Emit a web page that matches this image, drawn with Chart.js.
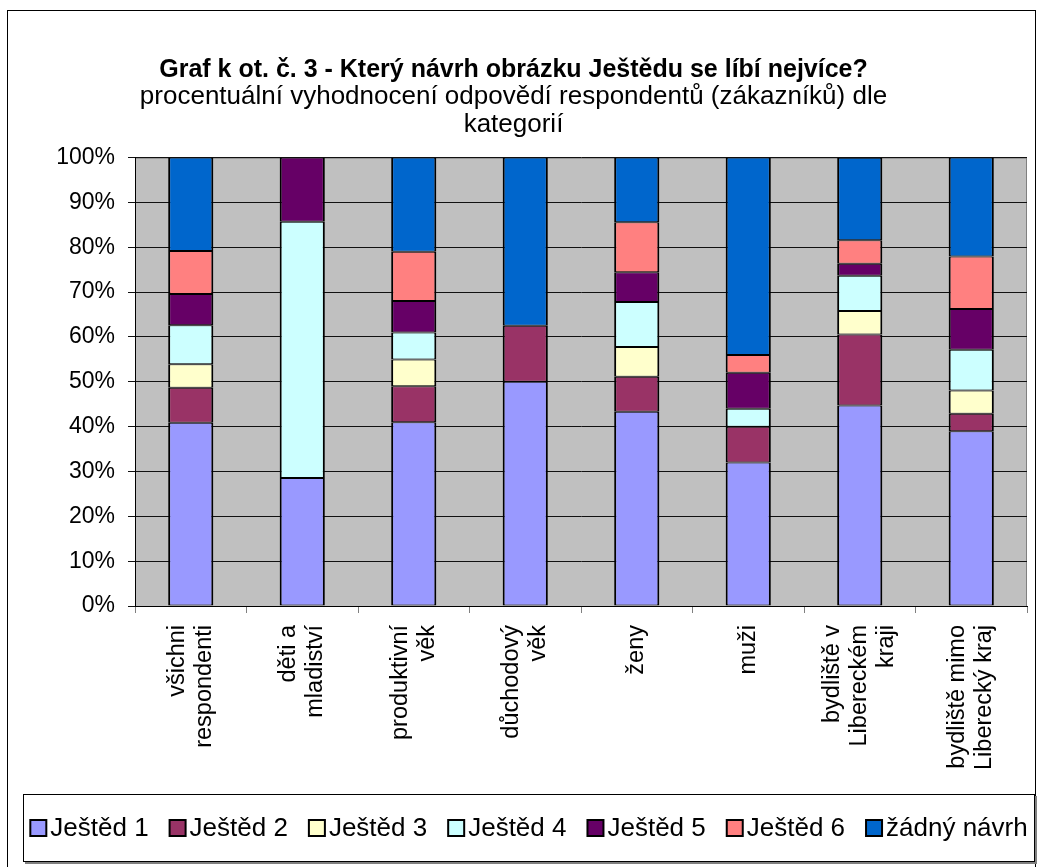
<!DOCTYPE html>
<html>
<head>
<meta charset="utf-8">
<title>Graf k ot. č. 3</title>
<script src="https://cdn.jsdelivr.net/npm/chart.js@4.4.1/dist/chart.umd.min.js"></script>
<style>
 html, body {margin:0; padding:0; background:#ffffff;}
 #page      {position:relative; width:1038px; height:867px; overflow:hidden;}
 canvas     {display:block;}
</style>
</head>
<body>
<div id="page"><canvas id="chart" width="1038" height="867"></canvas></div>
<script>

// -----------------------------------------------------------------------------------------------//
//                                        D A T A                                                 //
// -----------------------------------------------------------------------------------------------//

var categories = [["všichni", "respondenti"], ["děti a", "mladiství"], ["produktivní", "věk"], ["důchodový", "věk"], ["ženy"], ["muži"], ["bydliště v", "Libereckém", "kraji"], ["bydliště mimo", "Liberecký kraj"]];

// percent of answers in each category
var jested_1 = [40.87, 28.57, 41.00, 50.00, 43.33, 32.00, 44.74, 38.96];
var jested_2 = [ 7.83,  0,     8.00, 12.50,  7.78,  8.00, 15.79,  3.90];
var jested_3 = [ 5.22,  0,     6.00,  0,     6.67,  0,     5.26,  5.19];
var jested_4 = [ 8.70, 57.14,  6.00,  0,    10.00,  4.00,  7.89,  9.09];
var jested_5 = [ 6.96, 14.29,  7.00,  0,     6.67,  8.00,  2.63,  9.09];
var jested_6 = [ 9.57,  0,    11.00,  0,    11.11,  4.00,  5.26, 11.69];
var zadny    = [20.85,  0,    21.00, 37.50, 14.44, 44.00, 18.42, 22.08];

var series_names  = ["Ještěd 1", "Ještěd 2", "Ještěd 3", "Ještěd 4", "Ještěd 5", "Ještěd 6", "žádný návrh"];
var series_colors = ["#9999FF", "#993366", "#FFFFCC", "#CCFFFF", "#660066", "#FF8080", "#0066CC"];
var series_values = [jested_1, jested_2, jested_3, jested_4, jested_5, jested_6, zadny];

var y_ticks    = [0, 10, 20, 30, 40, 50, 60, 70, 80, 90, 100];

var title_text = "Graf k ot. č. 3 - Který návrh obrázku Ještědu se líbí nejvíce?";
var subtitle   = ["procentuální vyhodnocení odpovědí respondentů (zákazníků) dle", "kategorií"];

var FONT       = "'Liberation Sans', Arial, sans-serif";




// -----------------------------------------------------------------------------------------------//
//                                     P L U G I N S                                              //
// -----------------------------------------------------------------------------------------------//

// gray plot area + outer frame
var Plot_Background =
{
 id: "plot_background",
 beforeDraw: function(chart)
 {
  var ctx  = chart.ctx;
  var area = chart.chartArea;

  ctx.save();
  ctx.strokeStyle = "#000000";
  ctx.lineWidth   = 1;
  ctx.strokeRect(7.5, 10.5, chart.width - 10, chart.height + 20);

  ctx.fillStyle   = "#C0C0C0";
  ctx.fillRect(area.left, area.top, area.right - area.left, area.bottom - area.top);

  ctx.strokeStyle = "#808080";
  ctx.strokeRect(area.left + 0.5, area.top + 0.5, area.right - area.left - 1, area.bottom - area.top);
  ctx.restore();
 }
};



// rotated multi-line category labels, centered under each bar
var Category_Labels =
{
 id: "category_labels",
 afterDraw: function(chart)
 {
  var ctx    = chart.ctx;
  var scale  = chart.scales.x;
  var top    = chart.chartArea.bottom + 19;
  var height = 27;

  ctx.save();
  ctx.font         = "23.5px " + FONT;
  ctx.fillStyle    = "#000000";
  ctx.textAlign    = "right";
  ctx.textBaseline = "middle";

  for(var i = 0; i < categories.length; i++)
  {
   var lines  = categories[i];
   var center = scale.getPixelForValue(i);

   for(var j = 0; j < lines.length; j++)
   {
    var x = center + (j - (lines.length - 1) / 2) * height;

    ctx.save();
    ctx.translate(x, top);
    ctx.rotate(-Math.PI / 2);
    ctx.fillText(lines[j], 0, 0);
    ctx.restore();
   }
  }

  ctx.restore();
 }
};



// framed legend row along the bottom
var Legend_Box =
{
 id: "legend_box",
 afterDraw: function(chart)
 {
  var ctx    = chart.ctx;
  var left   = 23;
  var right  = chart.width - 3;
  var top    = Math.round(chart.scales.x.bottom);
  var bottom = chart.height - 5;

  ctx.save();

  // shadow + box
  ctx.fillStyle   = "#808080";
  ctx.fillRect(left + 2, top + 2, right - left, bottom - top);
  ctx.fillStyle   = "#FFFFFF";
  ctx.fillRect(left, top, right - left, bottom - top);
  ctx.strokeStyle = "#000000";
  ctx.lineWidth   = 1;
  ctx.strokeRect(left + 0.5, top + 0.5, right - left - 1, bottom - top - 1);

  // items
  ctx.font         = "26px " + FONT;
  ctx.textBaseline = "middle";
  ctx.textAlign    = "left";

  var box   = 16;
  var gap   = 4;
  var space = 21;

  var total = 0;
  var sets  = chart.data.datasets;
  for(var i = 0; i < sets.length; i++)
  {
   total += box + gap + ctx.measureText(sets[i].label).width;
   if(i < sets.length - 1) total += space;
  }

  var x  = left + (right - left - total) / 2;
  var cy = (top + bottom) / 2;

  for(var i = 0; i < sets.length; i++)
  {
   var set = sets[i];

   ctx.fillStyle   = set.backgroundColor;
   ctx.fillRect(x, cy - box / 2, box, box);
   ctx.strokeStyle = "#000000";
   ctx.lineWidth   = 2;
   ctx.strokeRect(x, cy - box / 2, box, box);

   ctx.fillStyle = "#000000";
   ctx.fillText(set.label, x + box + gap, cy + 1);

   x += box + gap + ctx.measureText(set.label).width + space;
  }

  ctx.restore();
 }
};




// -----------------------------------------------------------------------------------------------//
//                                       C H A R T                                                //
// -----------------------------------------------------------------------------------------------//

function Chart_Datasets()
{
 var datasets = [];

 for(var i = 0; i < series_values.length; i++)
 {
  var set = {};

  set["label"]              = series_names[i];
  set["data"]               = series_values[i];
  set["backgroundColor"]    = series_colors[i];
  set["borderColor"]        = "#000000";
  set["borderWidth"]        = {top:1, bottom:1, left:2, right:2};
  set["borderSkipped"]      = false;
  set["categoryPercentage"] = 1;
  set["barPercentage"]      = 0.405;

  datasets.push(set);
 }

 return datasets;
}



function Chart_Create()
{
 var labels = categories.map(function(lines){ return lines.join(" "); });

 var config =
 {
  type:    "bar",
  data:    {labels, datasets: Chart_Datasets()},
  plugins: [Plot_Background, Category_Labels, Legend_Box],
  options:
  {
   responsive:       false,
   animation:        false,
   devicePixelRatio: 1,
   layout:           {padding: {left:0, right:11, top:0, bottom:73}},

   plugins:
   {
    legend:   {display: false},
    tooltip:  {enabled: false},
    title:
    {
     display: true,
     text:    title_text,
     color:   "#000000",
     font:    {family: FONT, size: 25, weight: "bold", lineHeight: 1.1},
     padding: {top: 56, bottom: 0}
    },
    subtitle:
    {
     display: true,
     text:    subtitle,
     color:   "#000000",
     font:    {family: FONT, size: 26, weight: "normal", lineHeight: 1.06},
     padding: {top: 0, bottom: 19}
    }
   },

   scales:
   {
    x:
    {
     stacked: true,
     offset:  true,
     grid:    {offset: true, drawOnChartArea: false, drawTicks: true, tickLength: 7, color: "#808080"},
     border:  {color: "#000000", width: 1},
     ticks:   {display: false},
     afterFit: function(scale){ scale.height = 188; }
    },
    y:
    {
     stacked: true,
     min:     y_ticks[0],
     max:     y_ticks[y_ticks.length - 1],
     grid:    {color: "#111111", lineWidth: 1, tickLength: 7},
     border:  {color: "#000000", width: 1},
     ticks:
     {
      stepSize: y_ticks[1] - y_ticks[0],
      padding:  13,
      color:    "#000000",
      font:     {family: FONT, size: 23},
      callback: function(value){ return value + "%"; }
     },
     afterFit: function(scale){ scale.width = 135; }
    }
   }
  }
 };

 var context = document.getElementById("chart").getContext("2d");
 return new Chart(context, config);
}


Chart_Create();

</script>
</body>
</html>
